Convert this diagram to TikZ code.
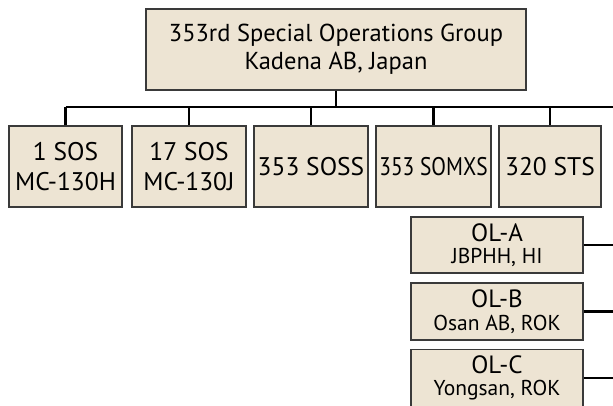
\documentclass[tikz,border=0pt]{standalone}
\usepackage{fontspec}
\setmainfont{PT Sans}
\definecolor{boxfill}{HTML}{EDE4D3}
\definecolor{boxline}{HTML}{3A3A3A}
\begin{document}
\begin{tikzpicture}[x=1pt,y=-1pt,
  box/.style={draw=boxline, line width=1.3pt, fill=boxfill, inner sep=0pt, align=center},
  top/.style={box, minimum width=380pt, minimum height=81pt, font=\fontsize{24.5}{28}\selectfont},
  unit/.style={box, minimum height=81pt, font=\fontsize{25.5}{30.5}\selectfont},
  ol/.style={box, minimum width=172pt, minimum height=56pt, font=\fontsize{25}{22.5}\selectfont},
  conn/.style={line width=2.4pt, black}]
\useasboundingbox (0,0) rectangle (613,405);
\node[top] (grp) at (336,49.5) {353rd Special Operations Group\\Kadena AB, Japan};
\node[unit, minimum width=113pt] (s1) at (65.5,166.5) {1 SOS\\MC-130H};
\node[unit, minimum width=114pt] (s17) at (189,166.5) {17 SOS\\MC-130J};
\node[unit, minimum width=114pt] (soss) at (311,166.5) {353 SOSS};
\node[unit, minimum width=115pt] (somxs) at (433.5,166.5) {\scalebox{0.84}[1]{353 SOMXS}};
\node[unit, minimum width=102pt] (sts) at (550,166.5) {320 STS};
\node[ol] (ola) at (497,245) {OL-A\\\fontsize{21.5}{22.5}\selectfont JBPHH, HI};
\node[ol, minimum height=57pt] (olb) at (497,311.5) {OL-B\\\fontsize{21.5}{22.5}\selectfont Osan AB, ROK};
\node[ol, minimum height=57pt] (olc) at (497,378) {OL-C\\\fontsize{21.5}{22.5}\selectfont Yongsan, ROK};
\coordinate (busL) at (s1.north |- 0,107);
\coordinate (busR) at (613,107);
\coordinate (ea) at (613,245);
\coordinate (eb) at (613,311.5);
\coordinate (ec) at (613,378);
\draw[conn] (grp.south) -- (grp.south |- busR);
\draw[conn] (busL) -- (busR);
\foreach \n in {s1,s17,soss,somxs,sts} \draw[conn] (\n.north) -- (\n.north |- busR);
\draw[conn] (ola.east) -- (ea);
\draw[conn] (olb.east) -- (eb);
\draw[conn] (olc.east) -- (ec);
\end{tikzpicture}
\end{document}
